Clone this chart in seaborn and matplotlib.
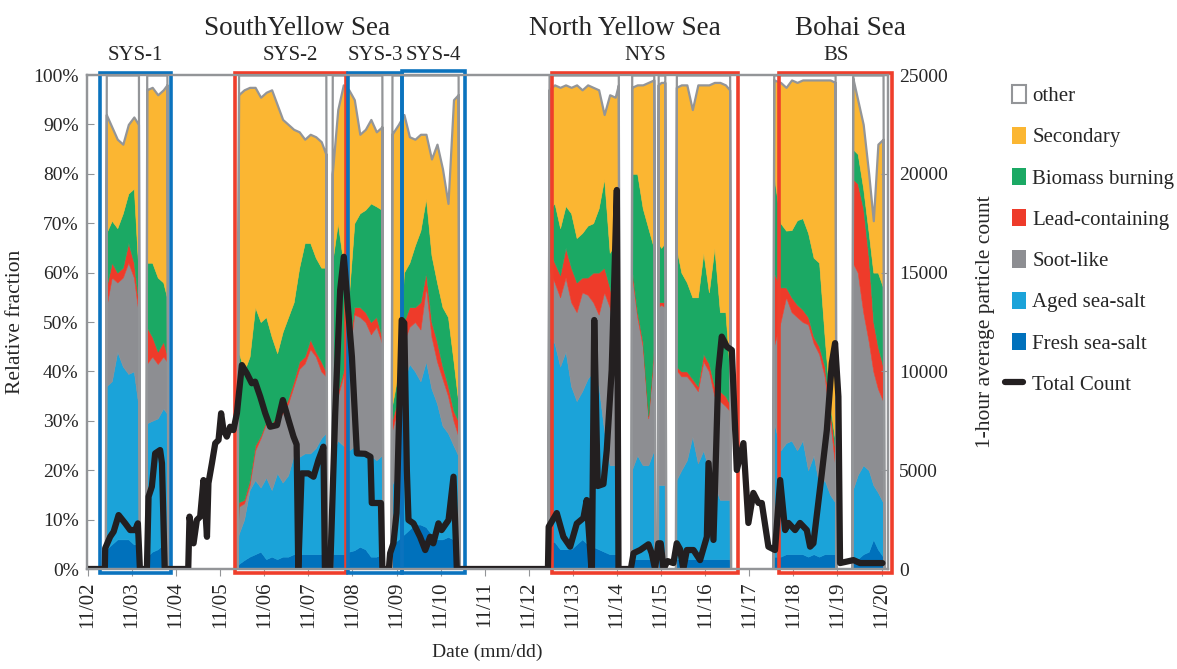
import numpy as np
import matplotlib
matplotlib.use('Agg')
import matplotlib.pyplot as plt
import matplotlib.transforms as mtransforms
import seaborn as sns
from matplotlib.patches import Rectangle, Patch
from matplotlib.lines import Line2D
from matplotlib.legend_handler import HandlerLine2D

sns.set_style('ticks')
plt.rcParams['font.family'] = ['Liberation Serif', 'DejaVu Serif']
plt.rcParams['font.size'] = 14

# --- data ---------------------------------------------------------------
# hours since 11/02 00:00; zero rows mark the gaps without aerosol data
frac_hours = [
    0, 9.5,
    10, 13, 16, 19, 22, 25, 27.5, 28,
    31.6, 32, 35, 38, 41, 43, 43.5,
    81.2, 82, 85, 88, 91, 94, 97, 100, 103, 106, 109, 112, 115, 118, 121, 124, 127, 129.5, 130,
    132.6, 133, 136, 139, 142, 145, 148, 151, 154, 157, 160, 160.5,
    165, 165.5, 169, 172, 175, 178, 181, 184, 187, 190, 193, 196, 199, 201.5, 202,
    250.3, 251, 254, 257, 260, 263, 266, 269, 272, 275, 278, 281, 284, 287, 288.7, 289.2,
    295.6, 296, 299, 302, 305, 308, 308.6,
    310, 310.4, 312, 314, 314.5,
    319.8, 320.3, 323, 326, 329, 332, 335, 338, 341, 344, 347, 349.3, 349.8,
    372.8, 373.3, 377, 380, 383, 386, 389, 392, 395, 398, 401, 404, 406.7, 407.2,
    415.8, 416.3, 419, 422, 425, 427.5, 430, 432.8, 433.3, 435.5,
]

# cumulative upper edge (%) of each class
secondary_top = [
    0, 0,
    92, 89.5, 87, 86, 90, 91.5, 90, 0,
    0, 97, 97.5, 96, 97, 98, 0,
    0, 96, 97, 97.5, 97.5, 95.5, 96.5, 97, 94, 91, 90, 89, 88.5, 87, 88, 87.5, 86.5, 84, 0,
    0, 80, 93, 98, 97, 95, 88, 89, 91, 88.5, 89.5, 0,
    0, 88, 90, 92, 87.5, 87, 88, 88, 83, 86, 81, 74, 95, 96, 0,
    0, 97, 98, 97.5, 98, 97.5, 98, 97, 98, 97.5, 97, 92, 96, 95.5, 98, 0,
    0, 97.5, 98, 98, 98.5, 99, 0,
    0, 98, 98.5, 98.5, 0,
    0, 97.5, 98, 98, 93, 98, 98, 98, 98.5, 98.5, 98, 97, 0,
    0, 99, 98.5, 97.5, 99, 98.5, 99, 99, 99, 99, 99, 99, 98.5, 0,
    0, 99.5, 95, 90, 80, 70.5, 86, 87, 0, 0,
]
biomass_top = [
    0, 0,
    68, 70.5, 69, 72, 76, 77, 60, 0,
    0, 62, 62, 59, 58, 55, 0,
    0, 44, 40, 43, 53, 50, 51, 47, 43.7, 48, 51, 54, 61, 66, 66, 63, 61, 61, 0,
    0, 62, 70, 62, 55, 70, 72, 72.7, 74, 73.4, 72.7, 0,
    0, 33, 40, 60, 62, 65.5, 68.5, 75, 63.5, 58, 53, 51, 42, 34, 0,
    0, 72.7, 74, 69, 73.5, 72, 67, 68, 69.5, 70, 73, 79, 64, 66, 66, 0,
    0, 80, 80, 73, 69, 65, 0,
    0, 66, 65, 66, 0,
    0, 65, 60, 58, 55, 55, 64, 56, 65, 52, 52, 40, 0,
    0, 80, 70, 68.5, 68.6, 70.6, 71, 68, 63, 62, 47, 33, 26, 0,
    0, 85, 84, 77, 68, 60, 60, 57, 0, 0,
]
lead_top = [
    0, 0,
    57, 62, 60, 61, 66, 62, 54, 0,
    0, 49, 47, 44, 46, 43.5, 0,
    0, 13.5, 14, 18, 25, 27, 30, 29.5, 31, 32, 34.5, 38, 42, 43, 46.5, 44, 42, 40, 0,
    0, 34, 36, 40, 45, 53, 53, 52, 50, 51, 47, 0,
    0, 30, 35, 50, 53, 53, 54, 60, 50, 46, 41, 37, 32, 30, 0,
    0, 64.6, 62, 59.5, 65, 61, 58, 59, 59, 60, 60, 61, 57, 52, 50, 0,
    0, 61, 52, 46, 31, 45, 0,
    0, 54, 54, 54, 0,
    0, 41, 40, 40, 38.5, 37, 43.5, 41.6, 37, 36, 35, 33.5, 0,
    0, 60, 57, 57, 55, 53.5, 52.5, 51, 47, 45, 41, 32, 24, 0,
    0, 79, 78, 73, 63, 50, 45, 41, 0, 0,
]
soot_top = [
    0, 0,
    53, 59, 58, 59, 62, 59, 52, 0,
    0, 41.5, 43, 41.5, 43, 42, 0,
    0, 12.6, 13.3, 17, 24, 26.5, 29.5, 28.8, 30, 31.5, 33.5, 37, 40.5, 41.6, 44.5, 43, 40, 39, 0,
    0, 33.5, 35, 39, 43, 51.5, 51, 50, 47.5, 49, 45.7, 0,
    0, 28, 33, 46, 49, 50, 48.5, 57, 47, 42, 38.5, 35, 30, 27, 0,
    0, 60.5, 58, 55, 59, 54, 52, 56, 55.5, 54, 51.5, 56, 53, 48, 47, 0,
    0, 60, 51, 45, 30.5, 44, 0,
    0, 53, 53.5, 53, 0,
    0, 40.3, 39, 39, 37.6, 36, 42, 40, 35, 34, 33, 32, 0,
    0, 45, 50, 55, 52, 51, 50, 49.5, 45.7, 43.5, 39, 30, 21, 0,
    0, 62, 60, 52, 46, 40, 36.5, 34, 0, 0,
]
aged_top = [
    0, 0,
    37, 38, 44, 41, 39.5, 40, 33, 0,
    0, 29.5, 30, 30.5, 32.5, 31.5, 0,
    0, 7, 10, 16, 18, 16.5, 18.5, 16, 19.4, 17.5, 19, 23, 22.7, 23.4, 23.4, 24.5, 26.5, 27.5, 0,
    0, 23, 26, 25, 24, 24.8, 24, 23.4, 23, 22, 23, 0,
    0, 17, 20, 38, 41.5, 40, 38, 42, 36.5, 33.5, 29, 27.5, 25, 23, 0,
    0, 47, 45.7, 41, 44, 37, 34, 36, 38.5, 40, 37, 28, 21, 21, 21.5, 0,
    0, 20, 23, 21, 21, 24, 0,
    0, 17, 17, 17, 0,
    0, 18, 20, 22, 26.8, 21.4, 24, 20, 17, 14, 14, 14, 0,
    0, 30, 24, 25.5, 26, 24, 26, 20, 23, 17, 18, 15, 13.5, 0,
    0, 16, 19, 21, 20, 17, 15.5, 13.5, 0, 0,
]
fresh_top = [
    0, 0,
    4, 5, 6, 6, 6, 5, 5, 0,
    0, 2.5, 3.5, 4, 5, 5, 0,
    0, 1, 1.8, 2.5, 3, 3.5, 2, 2.5, 2, 2.5, 2.5, 3, 3, 3, 3, 3, 3, 3, 0,
    0, 3, 3, 3, 3.5, 3.8, 4.5, 4, 2.5, 2.5, 3, 0,
    0, 5, 6, 7, 8, 9, 9, 8.5, 7, 6, 6, 6.5, 6, 5, 0,
    0, 5.5, 5.5, 4, 4, 4, 5, 6, 5, 4.5, 4, 3.5, 3, 3, 3, 0,
    0, 2, 2, 2, 2, 2, 0,
    0, 2, 2, 2, 0,
    0, 2, 2, 2, 2, 2, 2, 2, 2, 2, 2, 2, 0,
    0, 2.5, 2.5, 3, 3, 3, 3, 2.5, 3, 2.5, 3, 3, 3, 0,
    0, 2, 2, 3, 3.5, 6, 4, 2.5, 0, 0,
]

# 1-hour average particle count
count_hours = [
    0, 9.2, 9.4, 12.1, 14, 16.7, 20.3, 23, 25.7, 27.2, 28.3,
    32.1, 33, 34.8, 36.6, 39.3, 40.3, 41.8,
    54.6, 55.3, 57.5, 59.3, 61.1, 62.9, 64.8, 65.6, 67.5, 69.3, 71.1, 72.5, 73.8, 75.6, 77.4, 79.2, 81.1,
    83.8, 86.5, 89.2, 91, 93.8, 96.5, 99.2, 102.9, 106.1, 109.2, 111.9, 113.6, 114.5, 116.3, 120, 122.8,
    125.5, 128.2, 129,
    131.9, 134.6, 136.4, 137.3, 139.3, 143.7, 146.4, 150.9, 153.8, 154.5, 159.5, 160.3,
    163.8, 164.5, 166.3, 168, 170.8, 172.2, 173.6, 174.5, 177.2, 180.8, 183.6, 186.3, 188, 190.8, 192.5,
    196.3, 199, 200.8,
    250.4, 250.8, 255.2, 258.8, 262.5, 266.1, 269.7, 271.5, 274.3, 275.6, 277.5, 280.6, 282.4, 285.1,
    287.9, 288.8,
    295.5, 297, 300.6, 305.1, 306.9, 308.7, 310.5, 311.8, 313.3, 315.5, 318.7, 320.5, 322.3, 324.1, 326,
    329.6, 333.2, 336.9, 337.8, 340.5, 343.2, 345, 347.8, 350.5, 353.2, 356.8, 359.5, 362.2, 365, 366.8,
    370.4, 374, 376.8, 379.5, 381.3, 384.9, 387.6, 391.3, 393.1, 394.9, 399.5, 402.2, 404.9, 406.7, 408.5,
    409.4, 416.7, 420.3, 425.7, 432.5,
]
count_values = [
    0, 0, 1050, 1630, 1890, 2730, 2310, 1970, 1970, 2310, 0,
    0, 3660, 4170, 5850, 6020, 5350, 0,
    0, 2650, 1300, 2480, 2650, 4500, 1630, 4340, 5350, 6360, 6530, 7880, 7030, 6700, 7200, 7030, 7880,
    10320, 9900, 9400, 9480, 8720, 7890, 7200, 7280, 8550, 7540, 6700, 6300, 0, 4840, 4840, 4670,
    5520, 6190, 0,
    0, 7880, 12100, 14120, 15800, 10740, 5850, 5830, 5680, 3340, 3340, 0,
    0, 800, 1300, 2830, 12600, 12450, 5010, 2480, 2310, 1630, 960, 1630, 1300, 2310, 1970,
    2480, 4670, 0,
    0, 2140, 2830, 1630, 1130, 2300, 2580, 3490, -300, 12600, 4200, 4300, 6000, 10070,
    19180, 0,
    0, 800, 960, 1250, 800, 0, 1300, 1300, 0, 400, 300, 1300, 1000, 0, 960,
    960, 450, 1630, 5360, 1470, 10070, 11760, 11250, 11080, 5010, 6370, 2330, 3850, 3340, 3340,
    1130, 960, 4500, 1970, 2330, 1970, 2330, 1970, 1130, 1300, 4860, 7030, 10420, 11430, 8720,
    300, 450, 300, 300, 300,
]

# cruise legs (boxes)
leg_names = ['SYS-1', 'SYS-2', 'SYS-3', 'SYS-4', 'NYS', 'BS']
leg_start = [6.7, 79.8, 141.6, 170.9, 252.5, 376.4]
leg_end = [45.4, 140.4, 170.9, 205.3, 354.1, 437.6]
leg_kind = ['b', 'r', 'b', 'b', 'r', 'r']
sea_names = ['SouthYellow Sea', 'North Yellow Sea', 'Bohai Sea']
sea_hours = [114, 292.4, 414.8]
day_labels = ['11/%02d' % d for d in range(2, 21)]

class_names = ['Fresh sea-salt', 'Aged sea-salt', 'Soot-like', 'Lead-containing',
               'Biomass burning', 'Secondary']
class_colors = ['#0071bc', '#1ba3d9', '#8d8e92', '#ee3b2a', '#1ba964', '#fbb632']
GRAY = '#939598'
BLUE_BOX = '#0b73be'
RED_BOX = '#ef3e2b'

assert len(frac_hours) == len(secondary_top) == len(fresh_top) == len(aged_top)
assert len(frac_hours) == len(soot_top) == len(lead_top) == len(biomass_top)
assert len(count_hours) == len(count_values)


class LongLine(HandlerLine2D):
    # legend line for Total Count starts a little left of the patches
    def create_artists(self, legend, orig_handle, xdescent, ydescent, width, height,
                       fontsize, trans):
        return super().create_artists(legend, orig_handle, xdescent + 5, ydescent,
                                      width + 3, height, fontsize, trans)


# --- figure ----------------------------------------------------------------
fig = plt.figure(figsize=(11.77, 6.69), dpi=100)
ax = fig.add_axes([87 / 1177, 100 / 669, 801 / 1177, 494 / 669])

sec = np.array(secondary_top, float)
bio = np.array(biomass_top, float)
lead = np.array(lead_top, float)
soot = np.array(soot_top, float)
aged = np.array(aged_top, float)
fresh = np.array(fresh_top, float)
layers = [fresh, aged - fresh, soot - aged, lead - soot, bio - lead, sec - bio]

polys = ax.stackplot(frac_hours, *layers, colors=class_colors, linewidth=0)
for p in polys:
    p.set_edgecolor(p.get_facecolor())
    p.set_linewidth(0.4)
other = np.where(sec > 0, 100 - sec, 0)
ax.fill_between(frac_hours, sec, sec + other, facecolor='white',
                edgecolor=GRAY, linewidth=1.6)

ax.set_ylim(0, 100)
ax.set_yticks(range(0, 101, 10))
ax.set_yticklabels(['%d%%' % v for v in range(0, 101, 10)])
ax.set_xticks(range(0, 433, 24))
ax.set_xticklabels(day_labels, rotation=90)
ax.tick_params(axis='y', direction='in', length=5, color=GRAY, labelsize=14, pad=6)
ax.tick_params(axis='x', direction='out', length=5, color=GRAY, labelsize=15, pad=4)
ax.set_ylabel('Relative fraction', fontsize=15.5, labelpad=6)
ax.set_xlabel('Date (mm/dd)', fontsize=14, labelpad=11)

# leg boxes and labels
blend = mtransforms.blended_transform_factory(ax.transData, ax.transAxes)
for name, s, e, k in zip(leg_names, leg_start, leg_end, leg_kind):
    top = 100.8 if name == 'SYS-4' else 100.4
    ax.add_patch(Rectangle((s, -0.8), e - s, top + 0.8, fill=False,
                           edgecolor=BLUE_BOX if k == 'b' else RED_BOX,
                           linewidth=2.6, clip_on=False, zorder=5))
    ax.text((s + e) / 2, 1.040, name, transform=blend, ha='center', va='center',
            fontsize=15)
for name, h in zip(sea_names, sea_hours):
    ax.text(h, 1.095, name, transform=blend, ha='center', va='center', fontsize=19.5)

# total count on the right axis
ax2 = ax.twinx()
sns.lineplot(x=count_hours, y=count_values, ax=ax2, color='#231f20', linewidth=4.5,
             estimator=None, sort=False, solid_joinstyle='round', solid_capstyle='round')
ax2.set_ylim(0, 25000)
ax2.set_yticks(range(0, 25001, 5000))
ax2.tick_params(axis='y', direction='in', length=5, color=GRAY, labelsize=14, pad=8)
ax2.set_ylabel('1-hour average particle count', fontsize=15.5, labelpad=20)
ax.set_xlim(-0.5, 435.5)

for a in (ax, ax2):
    for sp in a.spines.values():
        sp.set_color(GRAY)
        sp.set_linewidth(1.6)

handles = [Patch(facecolor='white', edgecolor=GRAY, linewidth=1.5, label='other')]
for name, c in zip(class_names[::-1], class_colors[::-1]):
    handles.append(Patch(facecolor=c, edgecolor='none', label=name))
count_handle = Line2D([], [], color='#231f20', linewidth=4.5, label='Total Count')
handles.append(count_handle)
fig.legend(handles=handles, loc='upper left', bbox_to_anchor=(1004 / 1177, 1 - 77 / 669),
           frameon=False, fontsize=15, handlelength=0.65, handleheight=0.9,
           handletextpad=0.3, labelspacing=0.98, borderaxespad=0,
           handler_map={count_handle: LongLine()})

fig.savefig('out.png', dpi=100)
